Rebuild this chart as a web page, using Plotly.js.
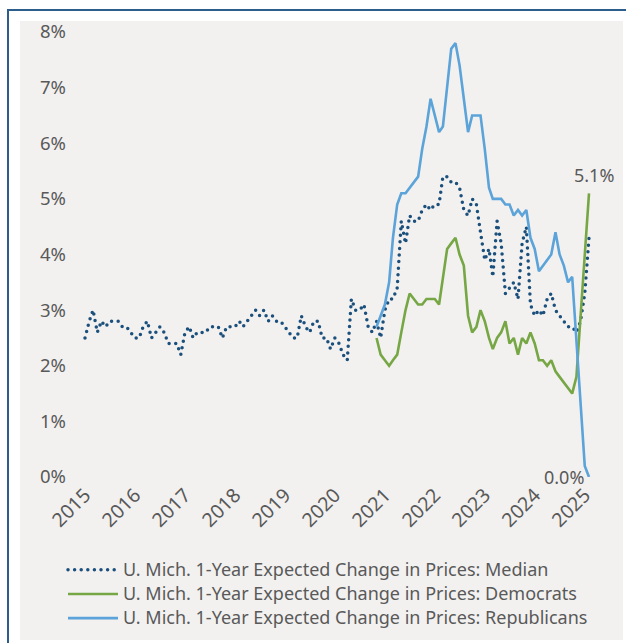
<!DOCTYPE html>
<html>
<head>
<meta charset="utf-8">
<script src="https://cdn.plot.ly/plotly-3.0.1.min.js"></script>
<style>
  html, body { margin: 0; padding: 0; background: #ffffff; width: 626px; height: 643px; overflow: hidden; }
  #frame { position: absolute; left: 7px; top: 9px; width: 619px; height: 634px;
           border-top: 2px solid #2c5d8b; border-left: 2px solid #2c5d8b; box-sizing: border-box; background: #ffffff; }
  #panel { position: absolute; left: 20px; top: 21px; width: 603px; height: 619px; background: #f2f1f0; }
  #chart { position: absolute; left: 20px; top: 11px; width: 603px; height: 629px; }
  .tracemedian .js-line, .legend .traces:first-child .js-line { stroke-linecap: round; stroke-dasharray: 0 6.6 !important; }
  .legend .legendtext { font-size: 18px !important; }
  .legend .scrollbox { clip-path: none !important; }
</style>
</head>
<body>
<div id="frame"></div>
<div id="panel"></div>
<div id="chart"></div>
<script>
// Monthly data, Jan 2015 - Feb 2025
const startYear = 2015;
const medianValues = [
  2.5, 2.8, 3.0, 2.6, 2.8, 2.7, 2.8, 2.8, 2.8, 2.7, 2.7, 2.6,
  2.5, 2.5, 2.7, 2.8, 2.5, 2.6, 2.7, 2.6, 2.4, 2.4, 2.4, 2.2,
  2.6, 2.7, 2.5, 2.6, 2.6, 2.6, 2.7, 2.7, 2.7, 2.5, 2.7, 2.7,
  2.7, 2.8, 2.7, 2.8, 2.9, 3.0, 2.9, 3.0, 2.8, 2.9, 2.8, 2.8,
  2.7, 2.6, 2.5, 2.5, 2.9, 2.7, 2.6, 2.8, 2.8, 2.5, 2.5, 2.3,
  2.5, 2.4, 2.2, 2.1, 3.2, 3.0, 3.0, 3.1, 2.7, 2.6, 2.8, 2.5,
  3.0, 3.2, 3.2, 3.4, 4.6, 4.2, 4.7, 4.6, 4.6, 4.8, 4.9, 4.8,
  4.9, 4.9, 5.4, 5.4, 5.3, 5.3, 5.2, 4.8, 4.7, 5.0, 4.9, 4.4,
  3.9, 4.1, 3.6, 4.6, 4.2, 3.3, 3.4, 3.5, 3.2, 4.2, 4.5, 3.1,
  2.9, 3.0, 2.9, 3.2, 3.3, 3.0, 2.9, 2.8, 2.7, 2.7, 2.6, 2.8,
  3.3, 4.3
];
// Partisan series, Nov 2020 - Feb 2025
const partisanStart = '2020-11';
const democratValues = [
  2.5, 2.2,
  2.1, 2.0, 2.1, 2.2, 2.6, 3.0, 3.3, 3.2, 3.1, 3.1, 3.2, 3.2,
  3.2, 3.1, 3.6, 4.1, 4.2, 4.3, 4.0, 3.8, 2.9, 2.6, 2.7, 3.0,
  2.8, 2.5, 2.3, 2.5, 2.6, 2.8, 2.4, 2.5, 2.2, 2.5, 2.4, 2.6,
  2.4, 2.1, 2.1, 2.0, 2.1, 1.9, 1.8, 1.7, 1.6, 1.5, 1.8, 2.9,
  4.0, 5.1
];
const republicanValues = [
  2.7, 2.9,
  3.1, 3.5, 4.3, 4.9, 5.1, 5.1, 5.2, 5.3, 5.4, 5.9, 6.3, 6.8,
  6.5, 6.2, 6.3, 7.0, 7.7, 7.8, 7.4, 6.8, 6.2, 6.5, 6.5, 6.5,
  5.9, 5.2, 5.0, 5.0, 5.0, 4.9, 4.9, 4.7, 4.8, 4.7, 4.8, 4.3,
  4.1, 3.7, 3.8, 3.9, 4.0, 4.4, 4.0, 3.8, 3.5, 3.6, 2.5, 1.3,
  0.2, 0.0
];
const seriesNames = [
  'U. Mich. 1-Year Expected Change in Prices: Median',
  'U. Mich. 1-Year Expected Change in Prices: Democrats',
  'U. Mich. 1-Year Expected Change in Prices: Republicans'
];
const yTickVals = [0, 1, 2, 3, 4, 5, 6, 7, 8];

function monthList(y0, m0, n) {
  const out = [];
  for (let i = 0; i < n; i++) {
    const y = y0 + Math.floor((m0 - 1 + i) / 12);
    const m = ((m0 - 1 + i) % 12) + 1;
    out.push(y + '-' + String(m).padStart(2, '0') + '-01');
  }
  return out;
}
const months = monthList(startYear, 1, medianValues.length);
const pStart = partisanStart.split('-').map(Number);
const partisanMonths = monthList(pStart[0], pStart[1], democratValues.length);

const grey = '#595959';
const fontFamily = 'Noto Sans, Open Sans, sans-serif';
const font = { family: fontFamily, size: 18, color: grey };

// x range: place first month and last month at chosen pixel positions
const plotW = 603 - 47 - 23;
const tFirst = Date.parse(months[0]);
const tLast = Date.parse(months[months.length - 1]);
const pxFirst = 18, pxLast = 522;
const msPerPx = (tLast - tFirst) / (pxLast - pxFirst);
const x0 = tFirst - pxFirst * msPerPx;
const x1 = x0 + plotW * msPerPx;

const traces = [
  { x: months, y: medianValues, name: seriesNames[0], type: 'scatter', mode: 'lines', uid: 'median',
    line: { color: '#1b4f7c', width: 3.5, dash: 'dot' } },
  { x: partisanMonths, y: democratValues, name: seriesNames[1], type: 'scatter', mode: 'lines', uid: 'dem',
    line: { color: '#76a744', width: 2.6 } },
  { x: partisanMonths, y: republicanValues, name: seriesNames[2], type: 'scatter', mode: 'lines', uid: 'rep',
    line: { color: '#5ba3d9', width: 2.6 } }
];

const lastD = democratValues[democratValues.length - 1];
const lastR = republicanValues[republicanValues.length - 1];
const lastM = partisanMonths[partisanMonths.length - 1];

const layout = {
  width: 603, height: 629,
  margin: { l: 47, r: 23, t: 21, b: 163, autoexpand: false },
  paper_bgcolor: 'rgba(0,0,0,0)', plot_bgcolor: '#f2f1f0',
  font: font,
  showlegend: true,
  xaxis: {
    type: 'date', range: [x0, x1], tick0: '2015-01-01', dtick: 'M12', tickformat: '%Y',
    tickangle: -45, showgrid: false, zeroline: false, showline: false, ticks: '',
    ticklabelstandoff: 2, ticklabeloverflow: 'allow',
    tickfont: { family: fontFamily, size: 19.5, color: grey }, fixedrange: true
  },
  yaxis: {
    range: [0, 8], tickvals: yTickVals, ticktext: yTickVals.map(v => v + '%'),
    ticklabeloverflow: 'allow',
    showgrid: false, zeroline: false, showline: false, ticks: '',
    tickfont: { family: fontFamily, size: 18.5, color: grey }, fixedrange: true
  },
  legend: {
    x: -0.0075, xanchor: 'left', y: -0.17, yanchor: 'top', orientation: 'v',
    font: { family: fontFamily, size: 16.3, color: grey }, bgcolor: 'rgba(0,0,0,0)', itemwidth: 50, tracegroupgap: 0
  },
  annotations: [
    { x: lastM, y: lastD, text: lastD.toFixed(1) + '%', showarrow: false, xanchor: 'center', yanchor: 'bottom',
      xshift: 5, yshift: 4, font: font },
    { x: lastM, y: lastR, text: lastR.toFixed(1) + '%', showarrow: false, xanchor: 'right', yanchor: 'middle',
      xshift: -3, yshift: 0, font: font }
  ]
};

Plotly.newPlot('chart', traces, layout, { staticPlot: true, displayModeBar: false });
</script>
</body>
</html>
